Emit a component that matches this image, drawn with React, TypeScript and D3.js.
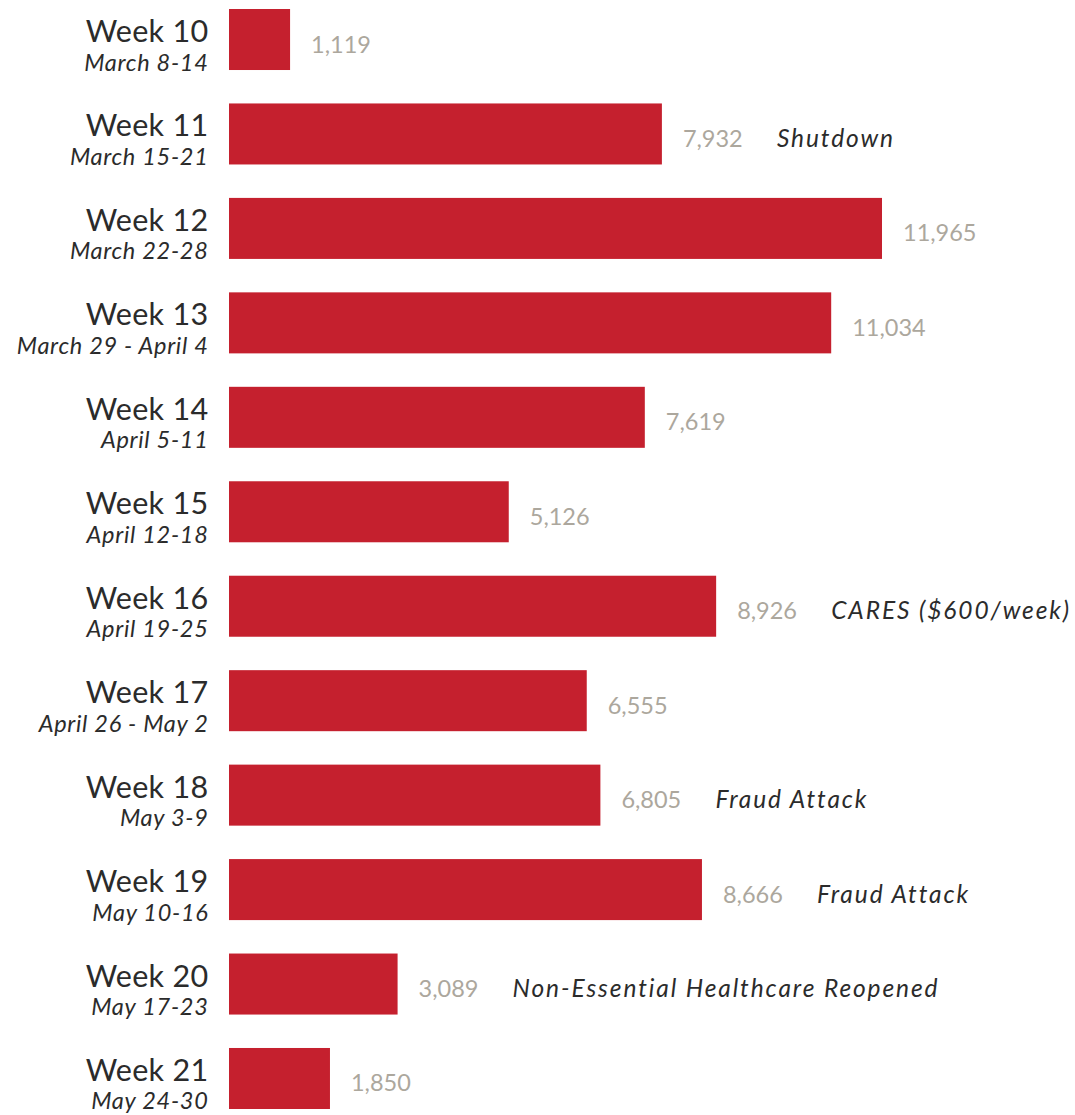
import React, { useRef, useEffect } from "react";
import * as d3 from "d3";

const weeks = ["Week 10", "Week 11", "Week 12", "Week 13", "Week 14", "Week 15", "Week 16", "Week 17", "Week 18", "Week 19", "Week 20", "Week 21"];
const dateRanges = ["March 8-14", "March 15-21", "March 22-28", "March 29 - April 4", "April 5-11", "April 12-18", "April 19-25", "April 26 - May 2", "May 3-9", "May 10-16", "May 17-23", "May 24-30"];
const claims = [1119, 7932, 11965, 11034, 7619, 5126, 8926, 6555, 6805, 8666, 3089, 1850];
const notes = ["", "Shutdown", "", "", "", "", "CARES ($600/week)", "", "Fraud Attack", "Fraud Attack", "Non-Essential Healthcare Reopened", ""];

const App: React.FC = () => {
  const ref = useRef<SVGSVGElement | null>(null);

  useEffect(() => {
    if (!ref.current) return;
    const svg = d3.select(ref.current);
    svg.selectAll("*").remove();

    const width = 1075;
    const height = 1115;
    const marginLeft = 229;
    const marginTop = 9;
    const marginBottom = 6;

    const rows = weeks.map((w, i) => ({ week: w, date: dateRanges[i], value: claims[i], note: notes[i] }));

    const x = d3.scaleLinear().domain([0, 11965]).range([marginLeft, 882]);
    const y = d3
      .scaleBand()
      .domain(weeks)
      .range([marginTop, height - marginBottom])
      .paddingInner(0.354)
      .paddingOuter(0);

    const fmt = d3.format(",");
    const font = "Lato, 'Open Sans', sans-serif";

    // bars
    svg
      .append("g")
      .attr("fill", "#c5202e")
      .selectAll("rect")
      .data(rows)
      .join("rect")
      .attr("x", x(0))
      .attr("y", (d) => y(d.week)!)
      .attr("width", (d) => x(d.value) - x(0))
      .attr("height", y.bandwidth());

    const mid = (d: any) => y(d.week)! + y.bandwidth() / 2;

    // week labels
    const lab = svg
      .append("g")
      .attr("font-family", font)
      .attr("text-anchor", "end")
      .attr("fill", "#2b2b2b");
    lab
      .selectAll("text.wk")
      .data(rows)
      .join("text")
      .attr("class", "wk")
      .attr("x", 208.5)
      .attr("y", (d) => mid(d) + 2.5)
      .attr("font-size", 30.5)
      .attr("letter-spacing", 0.3)
      .text((d) => d.week);
    lab
      .selectAll("text.dt")
      .data(rows)
      .join("text")
      .attr("class", "dt")
      .attr("x", 208.5)
      .attr("y", (d) => mid(d) + 31)
      .attr("font-size", 23.5)
      .attr("letter-spacing", 0.7)
      .attr("font-style", "italic")
      .text((d) => d.date);

    // values
    svg
      .append("g")
      .attr("font-family", font)
      .attr("fill", "#aca79d")
      .attr("font-size", 23.5)
      .selectAll("text")
      .data(rows)
      .join("text")
      .attr("x", (d) => x(d.value) + 21)
      .attr("y", (d) => mid(d) + 13)
      .text((d) => fmt(d.value));

    // annotations
    svg
      .append("g")
      .attr("font-family", font)
      .attr("fill", "#2b2b2b")
      .attr("font-size", 24.5)
      .attr("letter-spacing", 1.9)
      .attr("font-style", "italic")
      .selectAll("text")
      .data(rows.filter((d) => d.note))
      .join("text")
      .attr("x", (d) => x(d.value) + 115)
      .attr("y", (d) => mid(d) + 13)
      .text((d) => d.note);
  }, []);

  return (
    <svg
      ref={ref}
      width={1075}
      height={1115}
      style={{ position: "absolute", left: 0, top: 0, background: "#fff" }}
    />
  );
};

export default App;
